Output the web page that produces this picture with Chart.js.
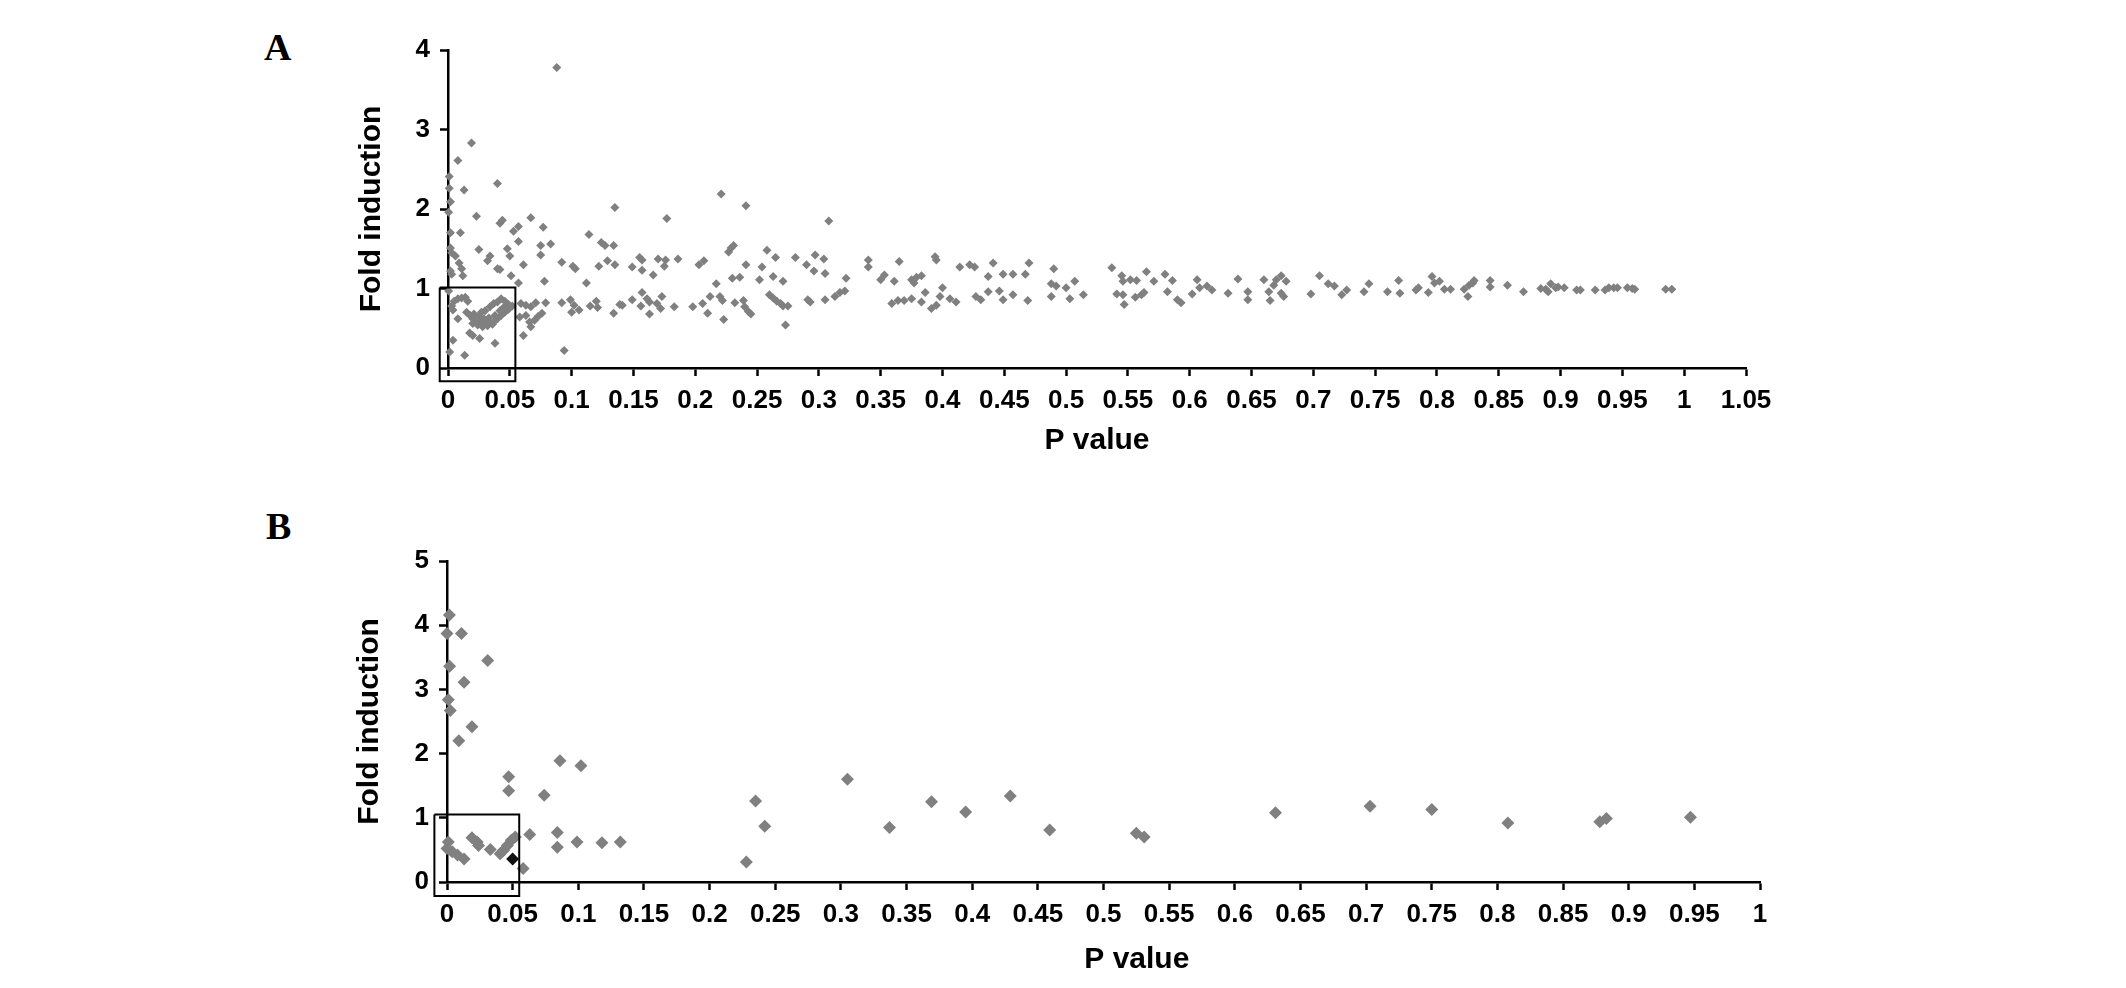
<!DOCTYPE html>
<html>
<head>
<meta charset="utf-8">
<script src="https://cdn.jsdelivr.net/npm/chart.js@4.4.1/dist/chart.umd.min.js"></script>
<style>
  html, body { margin: 0; padding: 0; background: #fff; width: 2126px; height: 988px; overflow: hidden; }
  .panel { position: absolute; font: bold 38px "Liberation Serif", "Times New Roman", serif; line-height: 1; color: #000; }
  canvas { position: absolute; left: 0; }
</style>
</head>
<body>
<div class="panel" style="left:264px; top:28px">A</div>
<div class="panel" style="left:266px; top:507px">B</div>
<canvas id="chartA" width="2126" height="480" style="top:0"></canvas>
<canvas id="chartB" width="2126" height="498" style="top:490px"></canvas>
<script>
// tick labels
const xTicksA = ['0', '0.05', '0.1', '0.15', '0.2', '0.25', '0.3', '0.35', '0.4', '0.45', '0.5', '0.55',
                 '0.6', '0.65', '0.7', '0.75', '0.8', '0.85', '0.9', '0.95', '1', '1.05']
const yTicksA = ['0', '1', '2', '3', '4']
const xTicksB = ['0', '0.05', '0.1', '0.15', '0.2', '0.25', '0.3', '0.35', '0.4', '0.45', '0.5', '0.55',
                 '0.6', '0.65', '0.7', '0.75', '0.8', '0.85', '0.9', '0.95', '1']
const yTicksB = ['0', '1', '2', '3', '4', '5']

// panel A: [P value, fold induction]
const genesA_low = [
  [0.019, 2.83], [0.008, 2.61], [0.001, 2.41], [0.001, 2.26], [0.013, 2.24], [0.040, 2.32], [0.002, 2.09],
  [0.0005, 1.96], [0.023, 1.91], [0.042, 1.82], [0.044, 1.86], [0.067, 1.89], [0.053, 1.72], [0.057, 1.78],
  [0.077, 1.77], [0.002, 1.70], [0.010, 1.70], [0.114, 1.68], [0.057, 1.59], [0.083, 1.56], [0.075, 1.54],
  [0.025, 1.49], [0.048, 1.50], [0.050, 1.41], [0.002, 1.51], [0.003, 1.45], [0.006, 1.41], [0.075, 1.42],
  [0.034, 1.41], [0.032, 1.35], [0.124, 1.58], [0.127, 1.54], [0.134, 1.54], [0.135, 2.02], [0.092, 1.33],
  [0.101, 1.28], [0.103, 1.25], [0.061, 1.30], [0.040, 1.25], [0.042, 1.24], [0.009, 1.32], [0.002, 1.22],
  [0.003, 1.18], [0.011, 1.25], [0.012, 1.16], [0.051, 1.16], [0.057, 1.07], [0.078, 1.09], [0.112, 1.07],
  [0.122, 1.28], [0.129, 1.35], [0.135, 1.30], [0.0005, 0.97], [0.088, 3.78], [0.094, 0.22],
  [0.003, 0.78], [0.005, 0.84], [0.008, 0.87], [0.011, 0.88], [0.014, 0.89], [0.016, 0.84], [0.004, 0.73],
  [0.008, 0.62], [0.015, 0.70], [0.018, 0.66], [0.020, 0.62], [0.023, 0.60], [0.026, 0.58], [0.028, 0.56],
  [0.031, 0.56], [0.034, 0.57], [0.037, 0.58], [0.040, 0.62], [0.043, 0.66], [0.046, 0.70], [0.049, 0.74],
  [0.052, 0.78], [0.020, 0.56], [0.024, 0.54], [0.028, 0.52], [0.032, 0.53], [0.036, 0.55], [0.021, 0.68],
  [0.025, 0.64], [0.029, 0.62], [0.033, 0.63], [0.038, 0.66], [0.042, 0.72], [0.045, 0.76], [0.034, 0.77],
  [0.037, 0.81], [0.040, 0.83], [0.043, 0.87], [0.046, 0.84], [0.049, 0.80], [0.030, 0.72], [0.027, 0.70],
  [0.004, 0.35], [0.0013, 0.20], [0.0135, 0.16], [0.0175, 0.44], [0.020, 0.41], [0.0256, 0.37], [0.038, 0.31],
  [0.061, 0.41], [0.059, 0.81], [0.063, 0.79], [0.067, 0.77], [0.058, 0.64], [0.063, 0.66], [0.066, 0.58],
  [0.070, 0.60], [0.073, 0.65], [0.076, 0.69], [0.067, 0.52], [0.079, 0.82], [0.071, 0.82], [0.092, 0.82],
  [0.099, 0.86], [0.102, 0.79], [0.100, 0.70], [0.106, 0.73], [0.115, 0.78], [0.120, 0.84], [0.121, 0.76],
  [0.134, 0.69], [0.139, 0.80]
]
const genesA_mid = [
  [0.177, 1.88], [0.221, 2.19], [0.241, 2.04], [0.308, 1.85], [0.149, 1.27], [0.155, 1.39], [0.157, 1.36],
  [0.157, 1.23], [0.166, 1.17], [0.170, 1.37], [0.176, 1.36], [0.175, 1.28], [0.186, 1.37], [0.203, 1.30],
  [0.207, 1.35], [0.217, 1.06], [0.227, 1.46], [0.229, 1.51], [0.231, 1.54], [0.241, 1.30], [0.230, 1.13],
  [0.236, 1.14], [0.254, 1.27], [0.258, 1.48], [0.265, 1.39], [0.252, 1.11], [0.263, 1.15], [0.271, 1.09],
  [0.281, 1.39], [0.290, 1.30], [0.297, 1.42], [0.304, 1.37], [0.296, 1.22], [0.305, 1.19], [0.322, 1.13],
  [0.340, 1.36], [0.340, 1.27], [0.141, 0.79], [0.149, 0.86], [0.157, 0.95], [0.156, 0.78], [0.161, 0.87],
  [0.163, 0.83], [0.163, 0.68], [0.169, 0.81], [0.173, 0.90], [0.172, 0.75], [0.183, 0.77], [0.198, 0.77],
  [0.206, 0.81], [0.212, 0.90], [0.210, 0.69], [0.220, 0.90], [0.222, 0.85], [0.223, 0.61], [0.232, 0.82],
  [0.239, 0.85], [0.240, 0.77], [0.243, 0.71], [0.245, 0.68], [0.260, 0.92], [0.263, 0.88], [0.266, 0.84],
  [0.269, 0.81], [0.271, 0.78], [0.275, 0.78], [0.273, 0.54], [0.291, 0.86], [0.293, 0.83], [0.305, 0.86],
  [0.313, 0.90], [0.317, 0.95], [0.321, 0.97],
  [0.365, 1.34], [0.394, 1.40], [0.395, 1.36], [0.350, 1.11], [0.353, 1.17], [0.361, 1.09], [0.375, 1.11],
  [0.379, 1.14], [0.383, 1.16], [0.377, 1.07], [0.359, 0.81], [0.364, 0.85], [0.369, 0.85], [0.375, 0.87],
  [0.383, 0.83], [0.386, 0.95], [0.391, 0.75], [0.395, 0.79], [0.398, 0.90], [0.400, 1.01], [0.406, 0.87],
  [0.411, 0.83], [0.414, 1.27], [0.422, 1.30], [0.426, 1.27], [0.437, 1.15], [0.441, 1.32], [0.449, 1.18],
  [0.457, 1.18], [0.467, 1.18], [0.470, 1.32], [0.427, 0.90], [0.431, 0.86], [0.437, 0.96], [0.446, 0.97],
  [0.449, 0.86], [0.457, 0.92], [0.469, 0.85], [0.490, 1.25], [0.488, 1.06], [0.492, 1.03], [0.500, 1.01],
  [0.507, 1.09], [0.488, 0.90], [0.503, 0.87], [0.514, 0.92], [0.537, 1.26], [0.545, 1.16], [0.546, 1.09],
  [0.552, 1.11], [0.557, 1.10], [0.565, 1.21], [0.571, 1.09], [0.541, 0.93], [0.546, 0.92], [0.547, 0.80],
  [0.556, 0.89], [0.561, 0.92], [0.563, 0.95]
]
const genesA_high = [
  [0.580, 1.18], [0.586, 1.10], [0.582, 0.96], [0.590, 0.86], [0.593, 0.82], [0.606, 1.11], [0.608, 1.01],
  [0.602, 0.93], [0.614, 1.03], [0.618, 0.98], [0.631, 0.94], [0.639, 1.12], [0.647, 0.96], [0.647, 0.86],
  [0.660, 1.11], [0.670, 1.11], [0.674, 1.16], [0.678, 1.09], [0.668, 1.04], [0.664, 0.96], [0.665, 0.85],
  [0.674, 0.94], [0.676, 0.90], [0.698, 0.93], [0.705, 1.16], [0.712, 1.06], [0.717, 1.03], [0.723, 0.92],
  [0.727, 0.98], [0.741, 0.96], [0.745, 1.06], [0.760, 0.96], [0.769, 1.10], [0.770, 0.94], [0.783, 0.98],
  [0.785, 1.01], [0.793, 0.95], [0.796, 1.15], [0.798, 1.07], [0.802, 1.09], [0.806, 0.99], [0.811, 0.99],
  [0.822, 0.99], [0.826, 1.04], [0.829, 1.07], [0.830, 1.10], [0.825, 0.90], [0.843, 1.10], [0.843, 1.02],
  [0.857, 1.04], [0.870, 0.96], [0.884, 1.00], [0.888, 0.99], [0.892, 1.06], [0.890, 0.96], [0.896, 1.01],
  [0.898, 1.02], [0.903, 1.01], [0.913, 0.98], [0.916, 0.98], [0.928, 0.98], [0.936, 0.98], [0.939, 1.01],
  [0.943, 1.01], [0.946, 1.01], [0.954, 1.01], [0.958, 1.00], [0.960, 0.99], [0.985, 0.99], [0.990, 0.99]
]

// panel B
const genesB = [
  [0.0018, 4.16], [0.000, 3.87], [0.011, 3.87], [0.031, 3.45], [0.002, 3.36], [0.013, 3.11], [0.001, 2.84],
  [0.0025, 2.67], [0.019, 2.42], [0.009, 2.20], [0.086, 1.89], [0.102, 1.81], [0.047, 1.64], [0.047, 1.42],
  [0.074, 1.35], [0.063, 0.74], [0.084, 0.77], [0.084, 0.54], [0.099, 0.625], [0.118, 0.61], [0.132, 0.625],
  [0.058, 0.21], [0.001, 0.625], [0.000, 0.52], [0.004, 0.47], [0.008, 0.42], [0.013, 0.36], [0.019, 0.69],
  [0.023, 0.625], [0.024, 0.57], [0.033, 0.505], [0.0405, 0.44], [0.043, 0.49], [0.046, 0.57], [0.049, 0.65],
  [0.052, 0.70], [0.228, 0.31], [0.235, 1.26], [0.242, 0.87], [0.305, 1.60], [0.337, 0.85], [0.369, 1.25],
  [0.395, 1.09], [0.429, 1.34], [0.459, 0.81], [0.525, 0.76], [0.531, 0.70], [0.631, 1.08], [0.703, 1.18],
  [0.750, 1.13], [0.808, 0.92], [0.878, 0.94], [0.883, 0.99], [0.947, 1.01]
]
const highlightB = [[0.050, 0.36]]

// the boxed region (P < 0.05, fold < 1), corners in data units
const boxA = [[-0.0067, 1.014], [0.0545, 1.014], [0.0545, -0.168], [-0.0067, -0.168], [-0.0067, 1.014]]
const boxB = [[-0.0096, 1.05], [0.055, 1.05], [0.055, -0.22], [-0.0096, -0.22], [-0.0096, 1.05]]

const toXY = pts => pts.map(([x, y]) => ({ x, y }))
const boldFont = size => ({ family: "'Liberation Sans', Arial, sans-serif", size, weight: 'bold' })

function drawPanel(id, o) {
  return new Chart(document.getElementById(id), {
    type: 'scatter',
    data: {
      datasets: [
        {
          data: toXY(o.box), showLine: true, borderColor: '#000', borderWidth: 2,
          pointRadius: 0, fill: false, clip: false
        },
        ...o.sets.map(s => ({
          data: toXY(s.pts), pointStyle: 'rectRot', pointRadius: o.radius,
          pointBackgroundColor: s.color, pointBorderColor: s.color, pointBorderWidth: 0, clip: false
        }))
      ]
    },
    options: {
      responsive: false,
      animation: false,
      devicePixelRatio: 1,
      layout: { padding: o.padding },
      plugins: { legend: { display: false }, tooltip: { enabled: false } },
      scales: {
        x: {
          type: 'linear', min: 0, max: parseFloat(o.xTicks[o.xTicks.length - 1]),
          afterBuildTicks: sc => { sc.ticks = o.xTicks.map(t => ({ value: parseFloat(t) })) },
          afterFit: sc => { sc.height = o.xHeight },
          ticks: { callback: (v, i) => o.xTicks[i], font: boldFont(26), color: '#000', padding: 9, maxRotation: 0, autoSkip: false },
          grid: { display: true, drawOnChartArea: false, drawTicks: true, tickLength: 8, tickWidth: 2.5, tickColor: '#000' },
          border: { display: true, color: '#000', width: 2.5 },
          title: { display: true, text: o.xTitle, font: boldFont(30), color: '#000', padding: { top: 0, bottom: o.xTitlePad } }
        },
        y: {
          type: 'linear', min: 0, max: parseFloat(o.yTicks[o.yTicks.length - 1]),
          afterBuildTicks: sc => { sc.ticks = o.yTicks.map(t => ({ value: parseFloat(t) })) },
          afterFit: sc => { sc.width = o.yWidth },
          ticks: { callback: (v, i) => o.yTicks[i], font: boldFont(26), color: '#000', padding: 10 },
          grid: { display: true, drawOnChartArea: false, drawTicks: true, tickLength: 8, tickWidth: 2.5, tickColor: '#000' },
          border: { display: true, color: '#000', width: 2.5 },
          title: { display: true, text: 'Fold induction', font: boldFont(30), color: '#000', padding: { top: o.yTitlePad, bottom: 0 } }
        }
      }
    }
  })
}

drawPanel('chartA', {
  box: boxA,
  sets: [{ pts: [...genesA_low, ...genesA_mid, ...genesA_high], color: '#808080' }],
  radius: 4.5,
  xTicks: xTicksA, yTicks: yTicksA,
  xTitle: 'P value',
  padding: { left: 340, right: 380, top: 50, bottom: 0 },
  xHeight: 112, yWidth: 108, xTitlePad: 21, yTitlePad: 14
})

drawPanel('chartB', {
  box: boxB,
  sets: [{ pts: highlightB, color: '#111111' }, { pts: genesB, color: '#808080' }],
  radius: 6.5,
  xTicks: xTicksB, yTicks: yTicksB,
  xTitle: '        P value',
  padding: { left: 340, right: 366, top: 71, bottom: 0 },
  xHeight: 106, yWidth: 107, xTitlePad: 10, yTitlePad: 12
})
</script>
</body>
</html>
